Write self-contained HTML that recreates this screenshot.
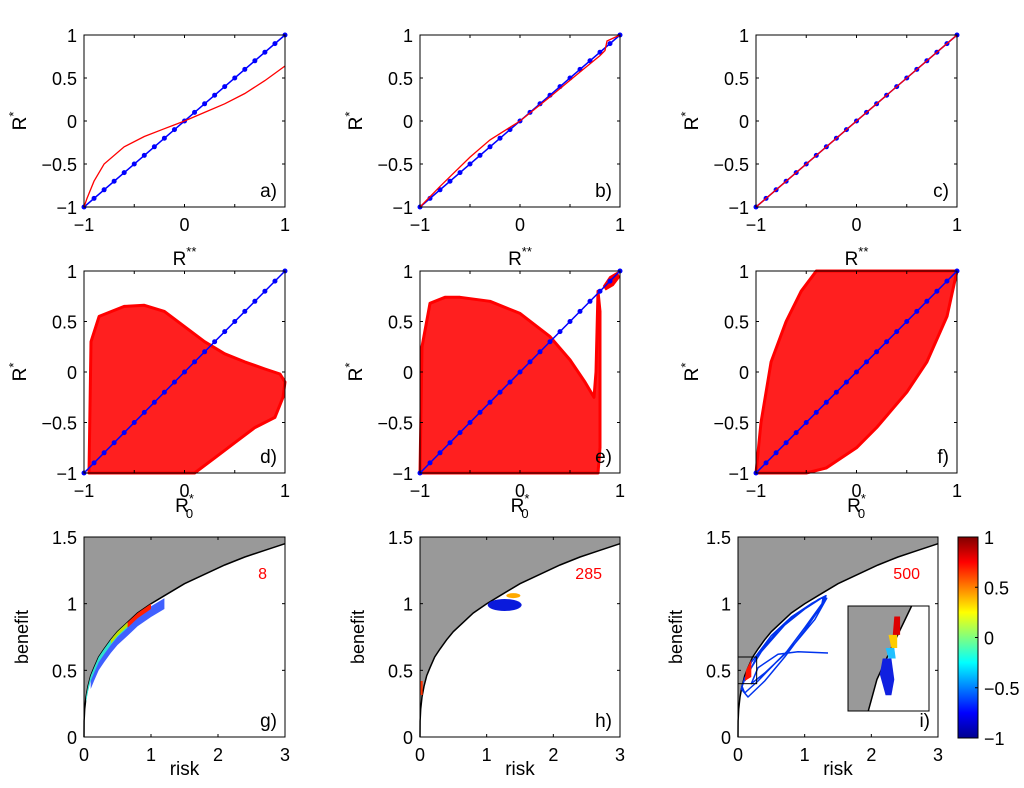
<!DOCTYPE html>
<html><head><meta charset="utf-8"><style>
html,body{margin:0;background:#fff;overflow:hidden;width:1024px;height:788px}
svg{display:block;font-family:"Liberation Sans",Arial,sans-serif}
</style></head><body>
<svg id="fig" width="1024" height="788" viewBox="0 0 1024 788" style="overflow:hidden">
<defs>
<linearGradient id="jet" x1="0" y1="1" x2="0" y2="0">
<stop offset="0" stop-color="#00008f"/><stop offset="0.125" stop-color="#0000ff"/><stop offset="0.375" stop-color="#00ffff"/><stop offset="0.625" stop-color="#ffff00"/><stop offset="0.875" stop-color="#ff0000"/><stop offset="1" stop-color="#800000"/>
</linearGradient>
</defs>
</svg>
<script>
// ---- data ----
const diagXTicks=[-1,0,1];
const diagMinorX=[-1,-0.5,0,0.5,1];
const diagTicks=[-1,-0.5,0,0.5,1];
const riskTicks=[0,1,2,3];
const benefitTicks=[0,0.5,1,1.5];
const diagMarkers=[-1,-0.9,-0.8,-0.7,-0.6,-0.5,-0.4,-0.3,-0.2,-0.1,0,0.1,0.2,0.3,0.4,0.5,0.6,0.7,0.8,0.9,1];
const curveA_x=[-1,-0.97,-0.9,-0.8,-0.6,-0.4,-0.2,0,0.2,0.4,0.6,0.8,1];
const curveA_y=[-1,-0.9,-0.7,-0.5,-0.3,-0.18,-0.09,0,0.1,0.2,0.32,0.47,0.64];
const curveB_x=[-1,-0.8,-0.5,-0.3,0,0.3,0.6,0.8,0.85,0.87,1];
const curveB_y=[-1,-0.76,-0.42,-0.22,0,0.28,0.57,0.76,0.82,0.93,1];
const curveC_x=[-1,1];
const curveC_y=[-1,1];
const cloudD_x=[-0.95,-0.93,-0.85,-0.6,-0.4,-0.2,0,0.2,0.4,0.6,0.8,0.95,1,0.98,0.9,0.7,0.5,0.3,0.1,-0.95];
const cloudD_y=[-1,0.3,0.55,0.65,0.66,0.6,0.45,0.3,0.18,0.1,0.03,-0.02,-0.1,-0.25,-0.45,-0.55,-0.7,-0.85,-1,-1];
const cloudE_x=[-1,-0.98,-0.9,-0.75,-0.6,-0.3,0,0.3,0.5,0.65,0.74,0.76,0.78,0.8,0.8,0.8,0.78,-1];
const cloudE_y=[-1,0.25,0.68,0.74,0.74,0.7,0.58,0.35,0.12,-0.1,-0.25,0.0,0.8,0.6,-0.3,-0.75,-1,-1];
const blobE_x=[0.84,0.9,0.97,0.99,0.93,0.86];
const blobE_y=[0.85,0.94,0.98,0.94,0.86,0.82];
const cloudF_x=[-1,-0.95,-0.85,-0.7,-0.55,-0.4,1,0.9,0.7,0.5,0.2,0,-0.3,-0.5];
const cloudF_y=[-1,-0.5,0.1,0.5,0.8,1,1,0.55,0.1,-0.2,-0.55,-0.75,-0.95,-1];
const frontierR=[0,0.002,0.01,0.03,0.06,0.1,0.15,0.22,0.3,0.4,0.5,0.65,0.8,1,1.2,1.5,1.8,2.1,2.4,2.7,3];
const frontierB=[0,0.12,0.21,0.3,0.38,0.46,0.52,0.6,0.66,0.73,0.79,0.86,0.93,1,1.06,1.15,1.22,1.29,1.35,1.4,1.45];
const loopsR=[0.1,0.3,0.6,0.9,1.2,1.32,1.25,1.0,0.7,0.4,0.15,0.05,0.1,0.35,0.7,1.0,1.25,1.33,1.15,0.85,0.55,0.3,0.1,0.06,0.2,0.5,0.8,1.1,1.28,1.26,1.0,0.7,0.4,0.2,0.3,0.6,0.9,1.35];
const loopsB=[0.42,0.62,0.8,0.93,1.03,1.06,0.98,0.8,0.6,0.42,0.3,0.36,0.44,0.64,0.84,0.96,1.04,1.04,0.88,0.7,0.55,0.42,0.33,0.38,0.56,0.76,0.9,1.0,1.05,1.0,0.82,0.62,0.48,0.4,0.52,0.62,0.64,0.63];
const cbTicks=[1,0.5,0,-0.5,-1];

const svg=document.getElementById('fig');
const NS='http://www.w3.org/2000/svg';
function mk(tag,attrs,parent){const e=document.createElementNS(NS,tag);for(const k in attrs)e.setAttribute(k,attrs[k]);(parent||svg).appendChild(e);return e;}
function ax(x0,x1,y0,y1,xmin,xmax,ymin,ymax){return{x0,x1,y0,y1,sx:v=>x0+(v-xmin)/(xmax-xmin)*(x1-x0),sy:v=>y1-(v-ymin)/(ymax-ymin)*(y1-y0)};}
function pts(a,xs,ys){return xs.map((v,i)=>a.sx(v).toFixed(1)+','+a.sy(ys[i]).toFixed(1)).join(' ');}
function txt(x,y,s,opt){const t=mk('text',Object.assign({x,y,'font-size':18,fill:'#000'},opt||{}));t.textContent=s;return t;}

function frame(a,xt,xlabels,yt,name){
  const g=mk('g',{});
  
  
  mk('rect',{x:a.x0,y:a.y0,width:a.x1-a.x0,height:a.y1-a.y0,fill:'none',stroke:'#000','stroke-width':1},g);
  xt.forEach(v=>{const x=a.sx(v);mk('line',{x1:x,x2:x,y1:a.y1,y2:a.y1-3,stroke:'#000'},g);mk('line',{x1:x,x2:x,y1:a.y0,y2:a.y0+3,stroke:'#000'},g);});
  xlabels.forEach(v=>{const x=a.sx(v);
    const t=txt(x,a.y1+24,(v<0?'\u2212':'')+Math.abs(v),{'text-anchor':'middle'});});
  yt.forEach(v=>{const y=a.sy(v);mk('line',{x1:a.x0,x2:a.x0+3,y1:y,y2:y,stroke:'#000'},g);mk('line',{x1:a.x1,x2:a.x1-3,y1:y,y2:y,stroke:'#000'},g);
    const t=txt(a.x0-7,y+7,(v<0?'\u2212':'')+Math.abs(v),{'text-anchor':'end'});});
}
function diagPanel(a,name){
  const l=mk('polyline',{points:pts(a,[-1,1],[-1,1]),fill:'none',stroke:'#0000ff','stroke-width':1.5});
  
  diagMarkers.forEach(v=>{const c=mk('circle',{cx:a.sx(v),cy:a.sy(v),r:2.5,fill:'#0000ff'});});
}
function ylabR(x,y){const t=mk('text',{transform:`translate(${x},${y}) rotate(-90)`,'font-size':19,'text-anchor':'middle'});t.innerHTML='R<tspan dy="-8" font-size="13">*</tspan>';}
function xlab(x,y,html){const t=mk('text',{x,y,'font-size':19,'text-anchor':'middle'});t.innerHTML=html;}
function plabel(a,s){const t=txt(a.x1-8,a.y1-10,s,{'text-anchor':'end','font-size':19});}

const cols=[[84,285],[420,620],[756,957]];
const rowTop=[35,207],rowMid=[271,473];
// Row 1
const curves=[[curveA_x,curveA_y],[curveB_x,curveB_y],[curveC_x,curveC_y]];
['a)','b)','c)'].forEach((lab,i)=>{
  const a=ax(cols[i][0],cols[i][1],rowTop[0],rowTop[1],-1,1,-1,1);
  diagPanel(a,'panel-'+lab[0]);
  const c=mk('polyline',{points:pts(a,curves[i][0],curves[i][1]),fill:'none',stroke:'#ff0000','stroke-width':1.3});
  
  frame(a,diagMinorX,diagXTicks,diagTicks,'panel-'+lab[0]);plabel(a,lab);
  ylabR(a.x0-58,121);
  xlab((a.x0+a.x1)/2,265,'R<tspan dy="-9" font-size="13">**</tspan>');
});
// Row 2
const clouds=[[cloudD_x,cloudD_y],[cloudE_x,cloudE_y],[cloudF_x,cloudF_y]];
['d)','e)','f)'].forEach((lab,i)=>{
  const a=ax(cols[i][0],cols[i][1],rowMid[0],rowMid[1],-1,1,-1,1);
  const p=mk('polygon',{points:pts(a,clouds[i][0],clouds[i][1]),fill:'#ff0000',stroke:'#ff0000','stroke-width':3,'stroke-linejoin':'round','fill-opacity':0.88});
  
  if(i===1){const b=mk('polygon',{points:pts(a,blobE_x,blobE_y),fill:'#ff0000',stroke:'#ff0000','stroke-width':2});}
  diagPanel(a,'panel-'+lab[0]);
  frame(a,diagMinorX,diagXTicks,diagTicks,'panel-'+lab[0]);plabel(a,lab);
  ylabR(a.x0-58,372);
  xlab((a.x0+a.x1)/2,512,'R<tspan dy="-9" font-size="13">*</tspan><tspan dx="-8" dy="15" font-size="13">0</tspan>');
});
// Row 3
const bcols=[[84,285],[420,620],[738,938]];
const nums=['8','285','500'];
function grayRegion(a,g){
  const xs=frontierR.concat([3,0]),ys=frontierB.concat([1.5,1.5]);
  const p=mk('polygon',{points:pts(a,xs,ys),fill:'#999999'},g);
  const f=mk('polyline',{points:pts(a,frontierR,frontierB),fill:'none',stroke:'#000','stroke-width':1.5},g);
}
function band(a,r0,r1,off0,off1,color){
  const xs=[],ys=[];
  for(let i=0;i<frontierR.length;i++){if(frontierR[i]>=r0&&frontierR[i]<=r1){xs.push(frontierR[i]);ys.push(frontierB[i]-off0);}}
  for(let i=frontierR.length-1;i>=0;i--){if(frontierR[i]>=r0&&frontierR[i]<=r1){xs.push(frontierR[i]);ys.push(frontierB[i]-off1);}}
  const p=mk('polygon',{points:pts(a,xs,ys),fill:color,stroke:'none'});
}
['g)','h)','i)'].forEach((lab,i)=>{
  const a=ax(bcols[i][0],bcols[i][1],537,737,0,3,0,1.5);
  grayRegion(a);
  if(i===0){
    band(a,0.1,1.2,0.02,0.1,'#4060ff');
    band(a,0.03,0.65,0.0,0.04,'#30e0d0');
    band(a,0.4,0.65,0.0,0.03,'#c0e000');
    band(a,0.65,1.0,0.0,0.04,'#ff2000');
  }
  if(i===1){
    const b=mk('ellipse',{cx:a.sx(1.27),cy:a.sy(0.99),rx:17,ry:6,fill:'#0a1adc'});
    const c=mk('ellipse',{cx:a.sx(1.4),cy:a.sy(1.06),rx:7,ry:2.5,fill:'#ffaa00'});
    const d=mk('rect',{x:a.sx(0.01),y:a.sy(0.42),width:2,height:14,fill:'#ff3000'});
  }
  if(i===2){
    const l=mk('polyline',{points:pts(a,loopsR,loopsB),fill:'none',stroke:'#0033ee','stroke-width':1.5,'stroke-linejoin':'round'});
    const r=mk('polygon',{points:pts(a,[0.12,0.2,0.2,0.1],[0.5,0.58,0.45,0.42]),fill:'#ff1000'});
    const z=mk('rect',{x:a.sx(0),y:a.sy(0.6),width:a.sx(0.28)-a.sx(0),height:a.sy(0.4)-a.sy(0.6),fill:'none',stroke:'#000','stroke-width':1});
  }
  frame(a,riskTicks,riskTicks,benefitTicks,'panel-'+lab[0]);plabel(a,lab);
  const n=txt(a.x1-18,a.y0+42,nums[i],{'text-anchor':'end',fill:'#ff0000','font-size':16});
  const yl=mk('text',{transform:`translate(${a.x0-56},637) rotate(-90)`,'font-size':18,'text-anchor':'middle'});yl.textContent='benefit';
  xlab((a.x0+a.x1)/2,775,'risk');
});
// inset
(function(){
  const g=mk('g',{});
  const a=ax(848,929,606,711,0,0.28,0.4,0.6);
  mk('rect',{x:848,y:606,width:81,height:105,fill:'#fff'},g);
  const cp=mk('clipPath',{id:'insclip'},g);mk('rect',{x:848,y:606,width:81,height:105},cp);
  const gi=mk('g',{'clip-path':'url(#insclip)'},g);
  grayRegion(a,gi);
  const blue=mk('polygon',{points:pts(a,[0.12,0.15,0.16,0.15,0.13,0.11],[0.5,0.5,0.46,0.43,0.43,0.47]),fill:'#1020e0'},gi);
  const cy=mk('polygon',{points:pts(a,[0.13,0.16,0.165,0.14],[0.52,0.52,0.5,0.5]),fill:'#20c0ff'},gi);
  const ye=mk('polygon',{points:pts(a,[0.14,0.17,0.17,0.15],[0.545,0.545,0.52,0.52]),fill:'#ffcc00'},gi);
  const rd=mk('polygon',{points:pts(a,[0.16,0.18,0.18,0.155],[0.58,0.58,0.545,0.545]),fill:'#dd0000'},gi);
  mk('rect',{x:848,y:606,width:81,height:105,fill:'none',stroke:'#000'},g);
})();
// colorbar
(function(){
  const g=mk('g',{});
  mk('rect',{x:958,y:537,width:20,height:201,fill:'url(#jet)',stroke:'#000'},g);
  cbTicks.forEach(v=>{const y=537+(1-v)/2*201;mk('line',{x1:975,x2:978,y1:y,y2:y,stroke:'#000'},g);
    const t=txt(984,y+7,(v<0?'\u2212':'')+Math.abs(v),{});});
})();
</script>
</body></html>
